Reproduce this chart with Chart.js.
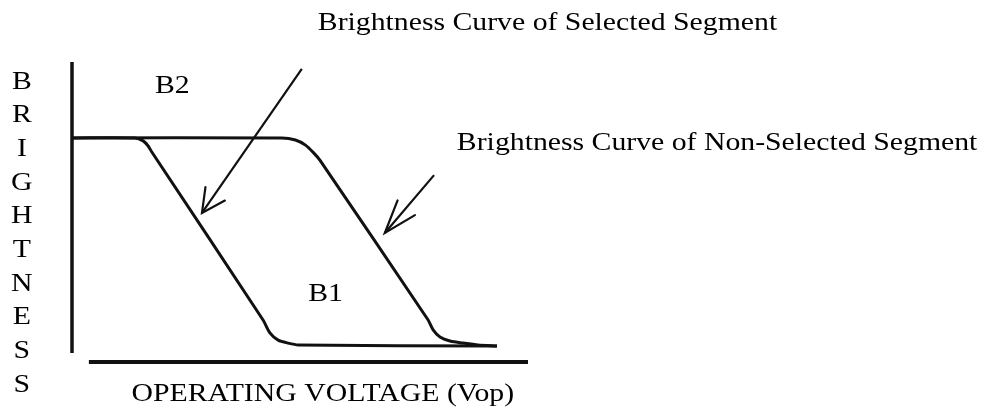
<!DOCTYPE html>
<html>
<head>
<meta charset="utf-8">
<script src="https://cdn.jsdelivr.net/npm/chart.js@4/dist/chart.umd.min.js"></script>
<style>
  html, body { margin: 0; padding: 0; background: #fff; }
  #wrap { width: 983px; height: 408px; }
</style>
</head>
<body>
<div id="wrap"><canvas id="c" width="983" height="408"></canvas></div>
<script>
// ---- data (arbitrary units: operating voltage on x, brightness on y) ----
const voltageSelected     = [0, 1.38, 1.56, 1.67, 1.75, 4.19, 4.34, 4.52, 4.74, 4.96, 9.32];
const brightnessSelected  = [7.47, 7.47, 7.37, 7.2, 7.0, 1.4, 0.97, 0.73, 0.63, 0.57, 0.53];

const voltageNonSelected    = [0, 4.6, 4.9, 5.12, 5.3, 5.44, 7.81, 7.92, 8.07, 8.29, 8.57, 8.9, 9.32];
const brightnessNonSelected = [7.47, 7.47, 7.4, 7.23, 6.97, 6.72, 1.4, 1.07, 0.83, 0.7, 0.63, 0.57, 0.53];

const yAxisLineX = [0, 0];
const yAxisLineY = [0.3, 10];
const xAxisLineX = [0.37, 10];
const xAxisLineY = [0, 0];

const arrowSelectedX = [5.04, 2.85];
const arrowSelectedY = [9.77, 4.97];
const arrowNonSelectedX = [7.94, 6.86];
const arrowNonSelectedY = [6.23, 4.3];

const labelTexts = ['Brightness Curve of Selected Segment', 'Brightness Curve of Non-Selected Segment', 'B2', 'B1'];
const labelX = [5.39, 8.44, 1.82, 5.18];
const labelY = [11.27, 7.27, 9.2, 2.25];

const xAxisTitle = 'OPERATING VOLTAGE (Vop)';
const yAxisTitle = 'BRIGHTNESS';

// ---- helpers ----
const pts = (xs, ys) => xs.map((x, i) => ({ x: x, y: ys[i] }));
const INK = '#111';
const SERIF = '"Liberation Serif", "Times New Roman", serif';
const FONT_PX = 25;
const H_STRETCH = 1.19;

const lineDs = (label, data, width, extra) => Object.assign({
  label: label,
  data: data,
  borderColor: INK,
  borderWidth: width,
  pointRadius: 0,
  fill: false,
  clip: false,
  tension: 0
}, extra || {});

function stretchedText(ctx, t, x, y, align) {
  ctx.save();
  ctx.translate(x, y);
  ctx.scale(H_STRETCH, 1);
  ctx.textAlign = align;
  ctx.fillText(t, 0, 0);
  ctx.restore();
}

const textPlugin = {
  id: 'diagramText',
  afterDatasetsDraw(chart) {
    const ctx = chart.ctx;
    const xs = chart.scales.x, ys = chart.scales.y;
    ctx.save();
    ctx.fillStyle = '#000';
    ctx.textBaseline = 'middle';
    ctx.font = FONT_PX + 'px ' + SERIF;
    labelTexts.forEach((t, i) => {
      stretchedText(ctx, t, xs.getPixelForValue(labelX[i]), ys.getPixelForValue(labelY[i]), 'left');
    });
    stretchedText(ctx, xAxisTitle, xs.getPixelForValue(5.5), ys.getPixelForValue(-1.07), 'center');
    const letters = yAxisTitle.split('');
    const top = ys.getPixelForValue(9.33), bottom = ys.getPixelForValue(-0.77);
    const step = (bottom - top) / (letters.length - 1);
    letters.forEach((ch, i) => {
      stretchedText(ctx, ch, xs.getPixelForValue(-1.1), top + i * step, 'center');
    });
    ctx.restore();

    // arrowheads at the last point of arrow datasets
    chart.data.datasets.forEach((ds, di) => {
      if (!ds.arrowHead) return;
      const p = chart.getDatasetMeta(di).data;
      const a = p[p.length - 2], b = p[p.length - 1];
      const ang = Math.atan2(a.y - b.y, a.x - b.x);
      const L = ds.arrowHead.length, s = ds.arrowHead.spread * Math.PI / 180;
      ctx.save();
      ctx.strokeStyle = INK;
      ctx.lineWidth = ds.borderWidth;
      ctx.lineCap = 'round';
      ctx.beginPath();
      ctx.moveTo(b.x + L * Math.cos(ang + s), b.y + L * Math.sin(ang + s));
      ctx.lineTo(b.x, b.y);
      ctx.lineTo(b.x + L * Math.cos(ang - s), b.y + L * Math.sin(ang - s));
      ctx.stroke();
      ctx.restore();
    });
  }
};

new Chart(document.getElementById('c'), {
  type: 'line',
  data: {
    datasets: [
      lineDs('Y axis', pts(yAxisLineX, yAxisLineY), 3.5),
      lineDs('X axis', pts(xAxisLineX, xAxisLineY), 4),
      lineDs('Selected segment', pts(voltageSelected, brightnessSelected), 3, { tension: 0.25, borderJoinStyle: 'round' }),
      lineDs('Non-selected segment', pts(voltageNonSelected, brightnessNonSelected), 3, { tension: 0.25, borderJoinStyle: 'round' }),
      lineDs('Arrow selected', pts(arrowSelectedX, arrowSelectedY), 2.2, { arrowHead: { length: 26, spread: 27 } }),
      lineDs('Arrow non-selected', pts(arrowNonSelectedX, arrowNonSelectedY), 2.2, { arrowHead: { length: 35, spread: 19 } })
    ]
  },
  options: {
    responsive: false,
    animation: false,
    events: [],
    layout: { padding: { left: 72, right: 455, top: 62, bottom: 46 } },
    plugins: { legend: { display: false }, title: { display: false }, tooltip: { enabled: false } },
    scales: {
      x: { type: 'linear', display: false, min: 0, max: 10 },
      y: { type: 'linear', display: false, min: 0, max: 10 }
    }
  },
  plugins: [textPlugin]
});
</script>
</body>
</html>
